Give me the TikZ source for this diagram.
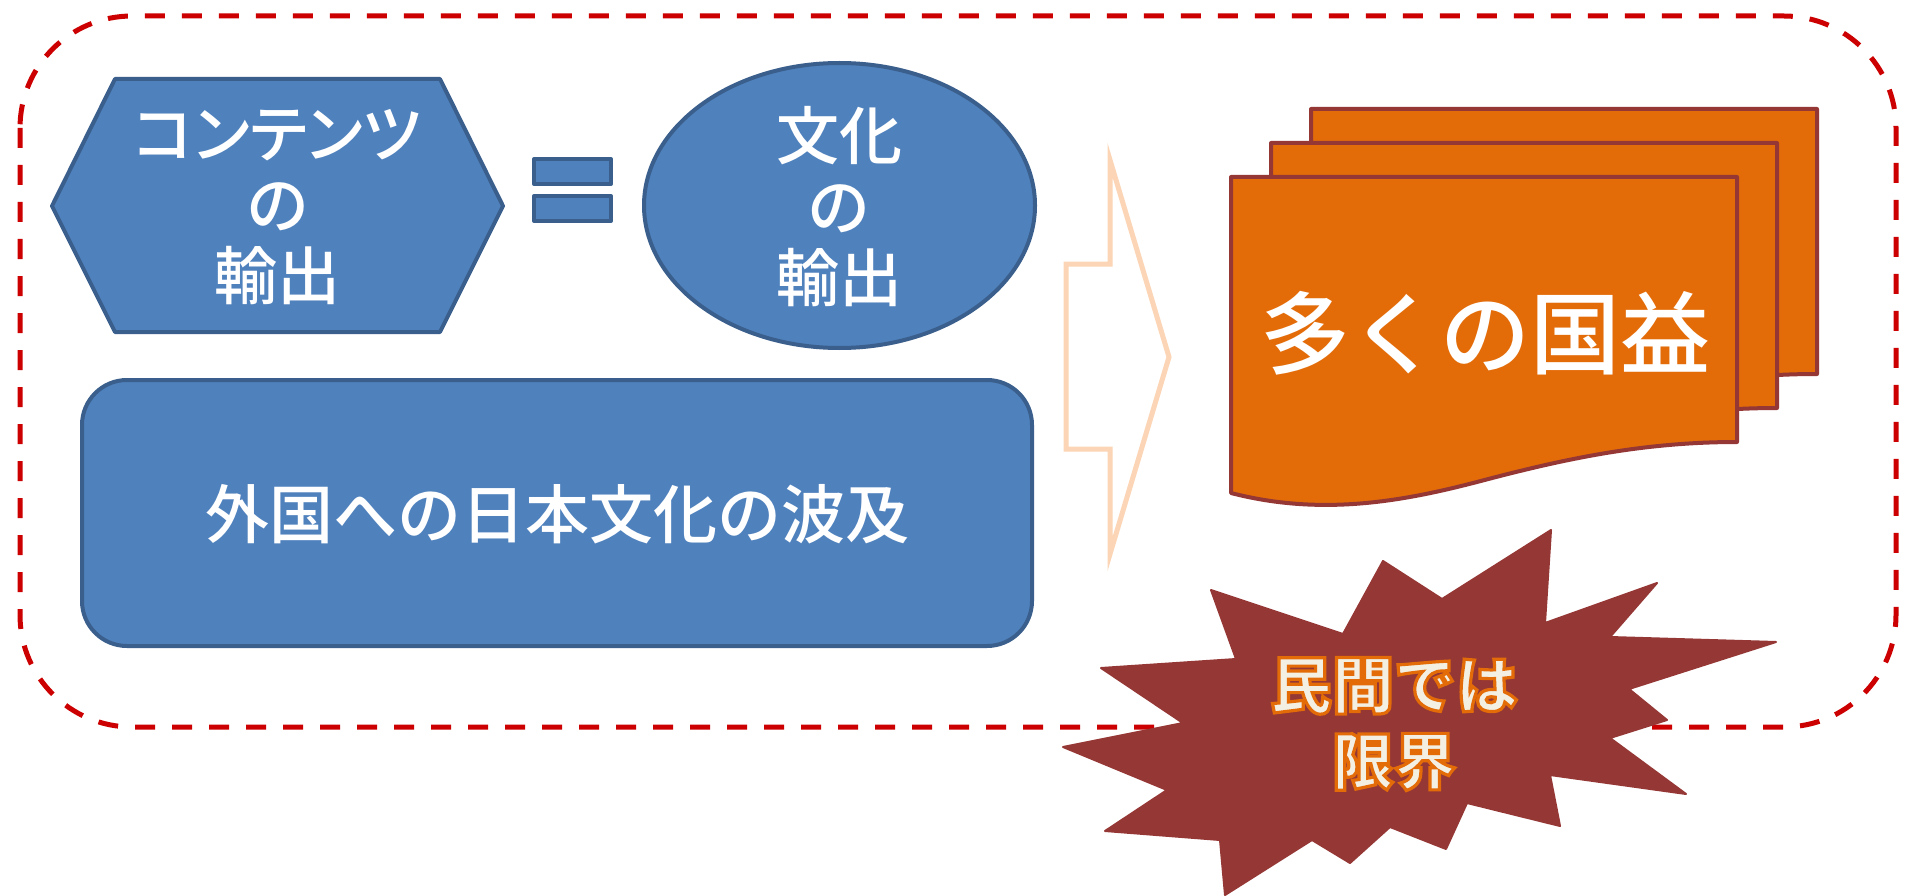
\documentclass[tikz,border=0pt]{standalone}
\usepackage{fontspec}
\newfontfamily\jp{Noto Sans CJK JP Medium}
\newfontfamily\jpb{Noto Sans CJK JP Black}
\definecolor{blueF}{HTML}{4F81BD}
\definecolor{blueD}{HTML}{3A5F8C}
\definecolor{docF}{HTML}{E36C09}
\definecolor{docD}{HTML}{953735}
\definecolor{starF}{HTML}{953735}
\definecolor{dashR}{HTML}{CC0000}
\definecolor{peach}{HTML}{FBD5B5}
\definecolor{cream}{HTML}{F3EFE2}
\newcommand\outlined[1]{\special{pdf:literal direct 2 Tr 3.2 w 0.890 0.424 0.035 RG}#1\special{pdf:literal direct 0 Tr}}
\begin{document}
\begin{tikzpicture}[x=1pt,y=-1pt,
  blueshape/.style={fill=blueF, draw=blueD, line width=4pt, line join=round},
  bluetext/.style={text=white, font=\jp\fontsize{63}{71}\selectfont, align=center, inner sep=0pt},
  docshape/.style={fill=docF, draw=docD, line width=4pt, line join=round},
  dashbox/.style={draw=dashR, line width=5pt, dash pattern=on 20pt off 17pt},
  arrowshape/.style={draw=peach, fill=white, line width=5pt, line join=miter},
  starshape/.style={fill=starF, draw=starF, line width=2pt, line join=round}]
\useasboundingbox (0,0) rectangle (1906,896);
\fill[white] (0,0) rectangle (1906,896);

% dashed frame
\draw[dashbox, rounded corners=112pt] (20,16) rectangle (1896,727);

% hexagon
\draw[blueshape] (52,206) -- (115,79) -- (440,79) -- (503,206) -- (440,332) -- (115,332) -- cycle;
\node[bluetext] (hextext) at (277.5,207) {{\addfontfeature{RawFeature=+palt}コンテンツ}\\の\\輸出};

% equals sign
\draw[blueshape] (534,159) rectangle (611,184);
\draw[blueshape] (534,196) rectangle (611,221);

% ellipse
\draw[blueshape] (839.5,205.5) ellipse [x radius=195.5, y radius=142.5];
\node[bluetext] (elltext) at (839,207) {文化\\の\\輸出};

% rounded rectangle
\draw[blueshape, rounded corners=45pt] (82,380) rectangle (1032,646);
\node[bluetext, font=\jp\fontsize{64}{72}\selectfont] (recttext) at (557,514) {外国への日本文化の波及};

% arrow
\draw[arrowshape] (1066,264) -- (1110,264) -- (1110,160) -- (1169,357) -- (1110,554) -- (1110,449) -- (1066,449) -- cycle;

% documents
\foreach \dx/\dy in {80/-68, 40/-34, 0/0}{
  \begin{scope}[shift={(\dx,\dy)}]
    \draw[docshape] (1231,177) -- (1737,177) -- (1737,442)
      .. controls (1640,442) and (1560,460) .. (1477,482)
      .. controls (1400,502) and (1320,516) .. (1231,493) -- cycle;
  \end{scope}
}
\node[text=white, font=\jp\fontsize{90}{100}\selectfont, inner sep=0pt] (doctext) at (1485,333) {多くの国益};

% explosion
\draw[starshape] (1211,590) -- (1343,634) -- (1383,561) -- (1442,599) -- (1551,530) -- (1545,623)
  -- (1657,583) -- (1610,637) -- (1776,642) -- (1629,689) -- (1667,720) -- (1610,738)
  -- (1686,794) -- (1550,775) -- (1560,826) -- (1467,803) -- (1446,849) -- (1390,827)
  -- (1350,863) -- (1312,840) -- (1225,895) -- (1220,840) -- (1105,831) -- (1167,790)
  -- (1063,747) -- (1183,723) -- (1101,668) -- (1236,659) -- cycle;
\node[text=cream, font=\jpb\fontsize{62}{76}\selectfont, align=center, inner sep=0pt] (startext) at (1394,724)
  {\outlined{民間では}\\\outlined{限界}};
\end{tikzpicture}
\end{document}
